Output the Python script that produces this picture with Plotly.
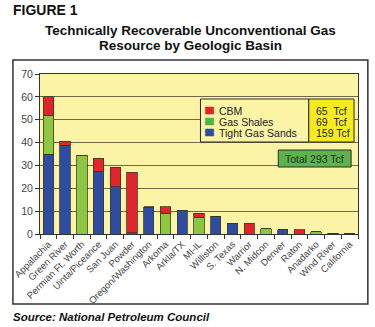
import plotly.graph_objects as go

# Basins and resource volumes (Tcf) by gas type
basins = ["Appalachia", "Green River", "Permian Ft. Worth", "Uinta/Piceance",
          "San Juan", "Powder", "Oregon/Washington", "Arkoma", "Arkla/TX",
          "MI-IL", "Williston", "S. Texas", "Warrior", "N. Midcon", "Denver",
          "Raton", "Anadarko", "Wind River", "California"]
tight_gas_sands = [35, 38.8, 0, 27.4, 20.7, 0.5, 11.7, 0, 10.4, 0, 7.7, 4.7,
                   0, 0, 1.9, 0, 0, 0.4, 0.2]
gas_shales = [16.8, 0, 34.5, 0, 0, 0, 0, 9, 0, 7.3, 0, 0, 0, 2.3, 0, 0, 0.9,
              0, 0]
cbm = [8.2, 1.8, 0, 5.8, 8.4, 26.6, 0.3, 3, 0, 1.7, 0, 0, 4.7, 0, 0, 1.8, 0,
       0, 0]

title_lines = ["Technically Recoverable Unconventional Gas",
               "Resource by Geologic Basin"]
legend_names = ["CBM", "Gas Shales", "Tight Gas Sands"]
legend_totals = ["65  Tcf", "69  Tcf", "159 Tcf"]
total_label = "Total 293 Tcf"
y_ticks = [0, 10, 20, 30, 40, 50, 60, 70]

RED = "#E3232B"
GREEN = "#8DC641"
BLUE = "#2D4CA2"
LEG_GREEN = "#4DB548"
PLOT_BG = "#FBF3A6"
EDGE = "#3A3A2A"

W, H = 375, 327
ML, MR, MT, MB = 35, 17, 74, 93
PW, PH = W - ML - MR, H - MT - MB


def px(x):
    return (x - ML) / PW


def py(y):
    return (H - MB - y) / PH


fig = go.Figure()
for name, vals, col in [("Tight Gas Sands", tight_gas_sands, BLUE),
                        ("Gas Shales", gas_shales, GREEN),
                        ("CBM", cbm, RED)]:
    fig.add_trace(go.Bar(x=basins, y=vals, name=name, marker_color=col,
                         marker_line=dict(color=EDGE, width=0.8)))

shapes = [
    # outer frame
    dict(type="rect", xref="paper", yref="paper", x0=px(7.5), x1=px(368),
         y0=py(304), y1=py(60), line=dict(color="#333333", width=1.5),
         layer="below"),
    # legend frame
    dict(type="rect", xref="paper", yref="paper", x0=px(198), x1=px(308),
         y0=py(142), y1=py(99), line=dict(color="#2a2a2a", width=1),
         fillcolor=PLOT_BG),
    # totals panel
    dict(type="rect", xref="paper", yref="paper", x0=px(308), x1=px(354),
         y0=py(142), y1=py(99), line=dict(color="#2a2a2a", width=1),
         fillcolor="#F6EB1F"),
    # grand total box
    dict(type="rect", xref="paper", yref="paper", x0=px(277), x1=px(351),
         y0=py(167), y1=py(150), line=dict(color="#2a2a2a", width=1),
         fillcolor="#5DB44C"),
]

annotations = [
    dict(text="<b>FIGURE 1</b>", xref="paper", yref="paper", x=px(6),
         y=py(10), xanchor="left", yanchor="middle", showarrow=False,
         font=dict(size=14, color="#111111")),
    dict(text="<b><i>Source: National Petroleum Council</i></b>",
         xref="paper", yref="paper", x=px(6), y=py(317), xanchor="left",
         yanchor="middle", showarrow=False,
         font=dict(size=11.5, color="#111111")),
    dict(text=total_label, xref="paper", yref="paper", x=px(314),
         y=py(158.5), xanchor="center", yanchor="middle", showarrow=False,
         font=dict(size=10.5, color="#1f2a1a")),
]
for i, line in enumerate(title_lines):
    annotations.append(dict(text="<b>" + line + "</b>", xref="paper",
                            yref="paper", x=px(188), y=py(30 + i * 16),
                            xanchor="center", yanchor="middle",
                            showarrow=False,
                            font=dict(size=13.5, color="#111111")))

leg_cols = [RED, LEG_GREEN, BLUE]
for i, (nm, tot, col) in enumerate(zip(legend_names, legend_totals, leg_cols)):
    yc = 110.5 + i * 11
    shapes.append(dict(type="rect", xref="paper", yref="paper",
                       x0=px(203), x1=px(211.5), y0=py(yc + 3.5),
                       y1=py(yc - 3.5), fillcolor=col,
                       line=dict(color=col, width=0.5)))
    annotations.append(dict(text=nm, xref="paper", yref="paper", x=px(215),
                            y=py(yc), xanchor="left", yanchor="middle",
                            showarrow=False,
                            font=dict(size=10.5, color="#222222")))
    annotations.append(dict(text=tot, xref="paper", yref="paper", x=px(313),
                            y=py(yc), xanchor="left", yanchor="middle",
                            showarrow=False,
                            font=dict(size=10.5, color="#222222")))

fig.update_layout(
    barmode="stack", bargap=0.38, width=W, height=H,
    margin=dict(l=ML, r=MR, t=MT, b=MB, pad=0),
    paper_bgcolor="white", plot_bgcolor=PLOT_BG, showlegend=False,
    font=dict(family="Liberation Sans, Arial, sans-serif", color="#444444"),
    shapes=shapes, annotations=annotations,
    xaxis=dict(type="category", tickangle=-45, tickson="boundaries",
               ticks="outside", ticklen=4, tickcolor="#333333",
               tickfont=dict(size=9.5, color="#444444"), showline=True,
               linecolor="#333333", linewidth=1, mirror=True,
               showgrid=False),
    yaxis=dict(range=[0, 70], tickvals=y_ticks, ticks="outside", ticklen=4,
               tickcolor="#333333", tickfont=dict(size=10.5, color="#444444"),
               showline=True, linecolor="#333333", linewidth=1, mirror=True,
               gridcolor="#6E6A48", gridwidth=1, zeroline=False),
)

fig.write_html("out.html")
